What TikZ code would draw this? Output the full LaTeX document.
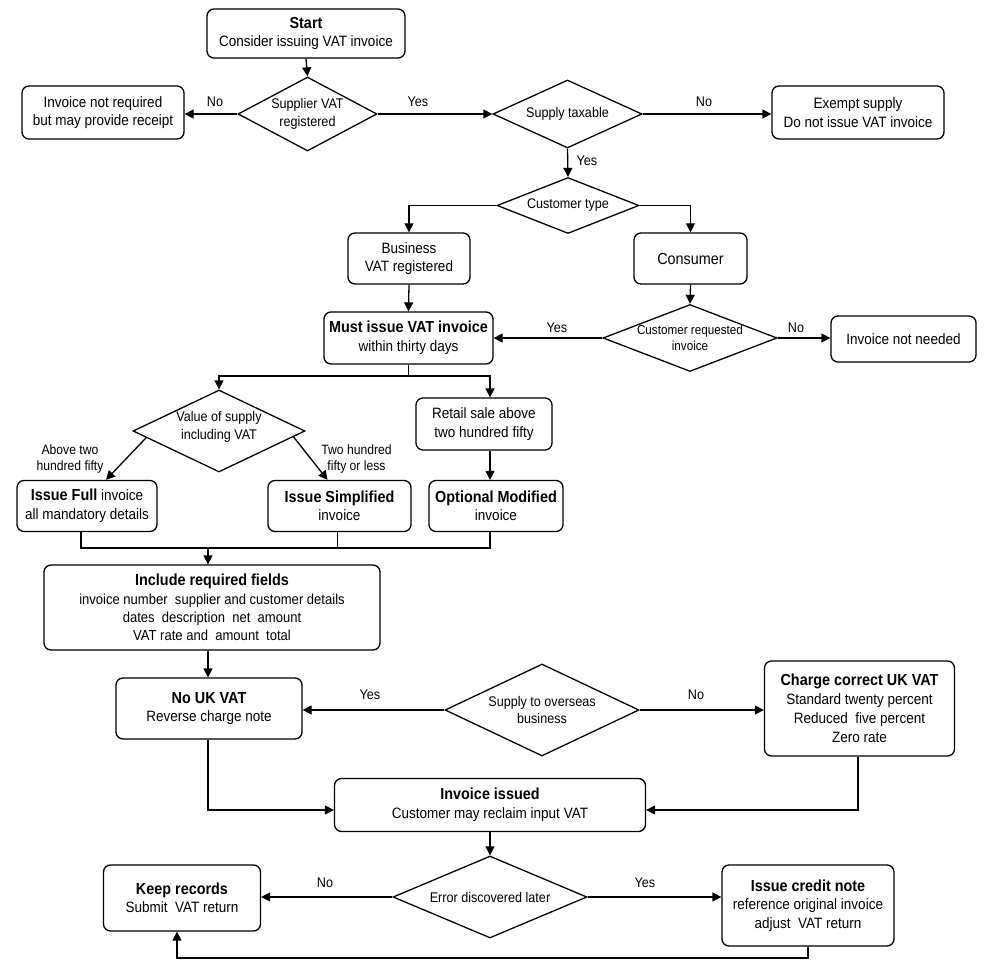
\documentclass[tikz,border=0pt]{standalone}
\usepackage{fontspec}
\setmainfont{Liberation Sans}[FakeStretch=0.9]
\usetikzlibrary{arrows.meta,shapes.geometric,calc}
\newcommand\ttl[1]{{\fontsize{16}{19}\selectfont\bfseries #1}}
\begin{document}
\begin{tikzpicture}[x=1pt,y=-1pt,
 every node/.style={font=\fontsize{15}{18.5}\selectfont},
 box/.style={draw,line width=1.3pt,rounded corners=7pt,align=center,inner sep=0pt,fill=white},
 dia/.style={draw,line width=1.3pt,diamond,inner sep=0pt},
 dtxt/.style={align=center,inner sep=0pt,font=\fontsize{14}{17.5}\selectfont},
 lab/.style={inner sep=0pt,font=\fontsize{14}{17}\selectfont},
 slab/.style={inner sep=0pt,align=center,font=\fontsize{13.5}{16.5}\selectfont},
 arr/.style={line width=1.3pt,-{Triangle[length=9pt,width=9pt]}},
 ln/.style={line width=1.3pt}]
\useasboundingbox[fill=white] (0,0) rectangle (993,976);

% ---------- boxes ----------
\node[box,minimum width=198pt,minimum height=49pt] (start) at (306,33.5) {\ttl{Start}\\Consider issuing VAT invoice};
\node[box,minimum width=162pt,minimum height=53pt] (norec) at (103,112.5) {Invoice not required\\but may provide receipt};
\node[box,minimum width=172pt,minimum height=53pt] (exempt) at (858,112.5) {Exempt supply\\Do not issue VAT invoice};
\node[box,minimum width=122pt,minimum height=51pt] (business) at (409,258.5) {Business\\VAT registered};
\node[box,minimum width=113pt,minimum height=51pt,font=\fontsize{16}{19}\selectfont] (consumer) at (690.5,258.5) {Consumer};
\node[box,minimum width=169pt,minimum height=52pt] (must) at (408.5,338) {\ttl{Must issue VAT invoice}\\within thirty days};
\node[box,minimum width=145pt,minimum height=46pt] (noneed) at (903.5,339) {Invoice not needed};
\node[box,minimum width=136pt,minimum height=52pt] (retail) at (484,424) {Retail sale above\\two hundred fifty};
\node[box,minimum width=140pt,minimum height=51pt] (full) at (87,506) {\ttl{Issue Full} invoice\\all mandatory details};
\node[box,minimum width=143pt,minimum height=51pt] (simp) at (339.5,506) {\ttl{Issue Simplified}\\invoice};
\node[box,minimum width=134pt,minimum height=51pt] (opt) at (496,506) {\ttl{Optional Modified}\\invoice};
\node[box,minimum width=336pt,minimum height=85pt,font=\fontsize{14.5}{18.3}\selectfont] (incl) at (212,607.5)
  {\ttl{Include required fields}\\invoice number\ \ supplier and customer details\\dates\ \ description\ \ net\ \ amount\\VAT rate and\ \ amount\ \ total};
\node[box,minimum width=186pt,minimum height=61pt] (nouk) at (209,708.5) {\ttl{No UK VAT}\\Reverse charge note};
\node[box,minimum width=190pt,minimum height=95pt,font=\fontsize{15}{19}\selectfont] (charge) at (859.5,708.5)
  {\ttl{Charge correct UK VAT}\\Standard twenty percent\\Reduced\ \ five percent\\Zero rate};
\node[box,minimum width=311pt,minimum height=53pt] (issued) at (490,805) {\ttl{Invoice issued}\\Customer may reclaim input VAT};
\node[box,minimum width=157pt,minimum height=66pt] (keep) at (182,898) {\ttl{Keep records}\\Submit\ \ VAT return};
\node[box,minimum width=172pt,minimum height=81pt] (credit) at (808,905.5) {\ttl{Issue credit note}\\reference original invoice\\adjust\ \ VAT return};

% ---------- diamonds ----------
\node[dia,minimum width=139pt,minimum height=74pt] (sup) at (307.5,114) {};
\node[dtxt] (supt) at (sup.center) {Supplier VAT\\registered};
\node[dia,minimum width=149pt,minimum height=68pt] (tax) at (567.5,114) {};
\node[dtxt] (taxt) at (tax.center) {Supply taxable};
\node[dia,minimum width=142pt,minimum height=56pt] (ctype) at (568,205.5) {};
\node[dtxt] (ctypet) at (ctype.center) {Customer type};
\node[dia,minimum width=174pt,minimum height=67pt] (creq) at (690,338) {};
\node[dtxt,font=\fontsize{13}{16.5}\selectfont] (creqt) at (creq.center) {Customer requested\\invoice};
\node[dia,minimum width=172pt,minimum height=82pt] (val) at (219,431) {};
\node[dtxt] (valt) at ($(val.center)+(0,-4)$) {Value of supply\\including VAT};
\node[dia,minimum width=194pt,minimum height=92pt] (over) at (542,710) {};
\node[dtxt] (overt) at (over.center) {Supply to overseas\\business};
\node[dia,minimum width=194pt,minimum height=82pt] (err) at (490,897) {};
\node[dtxt] (errt) at (err.center) {Error discovered later};

% ---------- connectors ----------
\draw[arr] (start.south) -- (sup.north);
\draw[arr] (sup.west) -- (sup.west -| norec.east);
\node[lab] (l1) at (215,102) {No};
\draw[arr] (sup.east) -- (tax.west);
\node[lab] (l2) at (418,102) {Yes};
\draw[arr] (tax.east) -- (tax.east -| exempt.west);
\node[lab] (l3) at (704,102) {No};
\draw[arr] (tax.south) -- (ctype.north);
\node[lab] (l4) at (587,161) {Yes};
\draw[arr] (ctype.west) -| (business.north);
\draw[arr] (ctype.east) -| (consumer.north);
\draw[arr] (business.south) -- (must.north);
\draw[arr] (consumer.south) -- (creq.north);
\draw[arr] (creq.west) -- (creq.west -| must.east);
\node[lab] (l5) at (557,328) {Yes};
\draw[arr] (creq.east) -- (creq.east -| noneed.west);
\node[lab] (l6) at (796,328) {No};

\coordinate (spl) at (408.5,376);
\coordinate (rx) at (490,376);
\draw[ln] (must.south) -- (spl);
\draw[arr] (spl) -| (val.north);
\draw[arr] (spl) -- (rx) -- (rx |- retail.north);
\draw[arr] (rx |- retail.south) -- (rx |- opt.north);
\draw[arr] ($(val.west)!0.16!(val.south)$) -- ($(full.north)+(19,0)$);
\node[slab] (l7) at (70,459) {Above two\\hundred fifty};
\draw[arr] ($(val.east)!0.14!(val.south)$) -- ($(simp.north)+(-12,0)$);
\node[slab] (l8) at (356.5,459) {Two hundred\\fifty or less};

\coordinate (mL) at (81,548);
\coordinate (mS) at (337.5,548);
\coordinate (mR) at (490,548);
\coordinate (mg) at (208,548);
\draw[ln] (mL |- full.south) -- (mL) -- (mR) -- (mR |- opt.south);
\draw[ln] (mS |- simp.south) -- (mS);
\draw[arr] (mg) -- (mg |- incl.north);
\draw[arr] (mg |- incl.south) -- (mg |- nouk.north);

\draw[arr] (over.west) -- (over.west -| nouk.east);
\node[lab] (l9) at (370,695) {Yes};
\draw[arr] (over.east) -- (over.east -| charge.west);
\node[lab] (l10) at (696,695) {No};

\draw[arr] (mg |- nouk.south) |- ($(issued.west)+(0,5)$);
\draw[arr] (858,0 |- charge.south) |- ($(issued.east)+(0,5)$);
\draw[arr] (issued.south) -- (err.north);

\draw[arr] (err.west) -- (err.west -| keep.east);
\node[lab] (l11) at (325,883) {No};
\draw[arr] (err.east) -- (err.east -| credit.west);
\node[lab] (l12) at (645,883) {Yes};

\coordinate (lp) at (177,958);
\draw[arr] (credit.south) |- (lp) -- (lp |- keep.south);
\end{tikzpicture}
\end{document}
